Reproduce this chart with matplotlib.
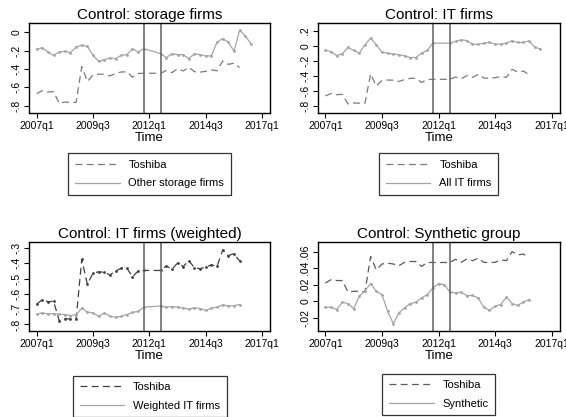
import numpy as np
import matplotlib
matplotlib.use("Agg")
from matplotlib import pyplot as plt
from matplotlib.lines import Line2D

plt.rcParams['font.family'] = ['Liberation Sans', 'DejaVu Sans']

# quarters since 2007q1 (0 = 2007q1)
quarters = np.arange(39)
tick_pos = [0, 10, 20, 30, 40]
tick_lab = ["2007q1", "2009q3", "2012q1", "2014q3", "2017q1"]
event_lines = [19, 22]

# Toshiba, used in the first three panels (q20, q21 missing)
toshiba = [-0.668, -0.637, -0.652, -0.648, -0.775, -0.762, -0.765, -0.765,
           -0.375, -0.537, -0.464, -0.456, -0.459, -0.476, -0.450, -0.433,
           -0.432, -0.489, -0.450, -0.447, None, None, -0.447, -0.417,
           -0.440, -0.398, -0.422, -0.382, -0.430, -0.435, -0.425, -0.410,
           -0.420, -0.313, -0.350, -0.337, -0.385, None, None]

storage = [-0.186, -0.168, -0.215, -0.251, -0.215, -0.207, -0.222, -0.160,
           -0.142, -0.155, -0.251, -0.316, -0.299, -0.280, -0.288, -0.251,
           -0.244, -0.178, -0.215, -0.178, None, None, -0.233, -0.277,
           -0.233, -0.244, -0.244, -0.288, -0.233, -0.244, -0.258, -0.258,
           -0.106, -0.070, -0.106, -0.207, 0.022, -0.040, -0.124]

it_all = [-0.062, -0.076, -0.130, -0.107, -0.022, -0.062, -0.098, 0.013,
          0.103, 0.013, -0.085, -0.098, -0.110, -0.120, -0.134, -0.156,
          -0.156, -0.098, -0.062, 0.036, None, None, 0.036, 0.058,
          0.080, 0.070, 0.022, 0.018, 0.036, 0.045, 0.022, 0.022,
          0.036, 0.067, 0.045, 0.045, 0.067, -0.022, -0.040]

it_weighted = [-0.732, -0.725, -0.730, -0.730, -0.732, -0.736, -0.742, -0.736,
               -0.693, -0.719, -0.725, -0.747, -0.725, -0.747, -0.753, -0.747,
               -0.736, -0.721, -0.715, -0.687, None, None, -0.679, -0.687,
               -0.683, -0.687, -0.693, -0.700, -0.690, -0.697, -0.708, -0.693,
               -0.687, -0.672, -0.679, -0.677, -0.670, None, None]

toshiba_syn = [0.022, 0.026, 0.025, 0.025, 0.0112, 0.012, 0.012, 0.0112,
               0.054, 0.038, 0.045, 0.046, 0.045, 0.043, 0.047, 0.048,
               0.048, 0.042, 0.047, 0.0468, None, None, 0.0468, 0.0508,
               0.047, 0.051, 0.049, 0.052, 0.047, 0.0468, 0.047, 0.050,
               0.049, 0.060, 0.056, 0.057, 0.053, None, None]

synthetic = [-0.0072, -0.0072, -0.010, -0.0012, -0.0028, -0.009, 0.006, 0.0128,
             0.0212, 0.012, 0.008, -0.012, -0.027, -0.014, -0.008, -0.0028,
             -0.0012, 0.004, 0.008, 0.016, 0.0212, 0.020, 0.0112, 0.010,
             0.011, 0.0068, 0.007, 0.004, -0.0072, -0.011, -0.006, -0.004,
             0.0052, -0.003, -0.005, -0.0008, 0.002, None, None]

panels = [
    dict(title="Control: storage firms", other=storage, treat=toshiba,
         label="Other storage firms", dash="#7a7a7a", dash_ms=0,
         yticks=[0, -0.2, -0.4, -0.6, -0.8], ylab=["0", "-.2", "-.4", "-.6", "-.8"],
         ylim=(-0.884, 0.098), pos=[0.0518, 0.7283, 0.4253, 0.2158], leg_y=0.632),
    dict(title="Control: IT firms", other=it_all, treat=toshiba,
         label="All IT firms", dash="#7a7a7a", dash_ms=0,
         yticks=[0.2, 0, -0.2, -0.4, -0.6, -0.8], ylab=[".2", "0", "-.2", "-.4", "-.6", "-.8"],
         ylim=(-0.90, 0.30), pos=[0.5618, 0.7283, 0.4270, 0.2158], leg_y=0.632),
    dict(title="Control: IT firms (weighted)", other=it_weighted, treat=toshiba,
         label="Weighted IT firms", dash="#404040", dash_ms=1.0,
         yticks=[-0.3, -0.4, -0.5, -0.6, -0.7, -0.8],
         ylab=["-.3", "-.4", "-.5", "-.6", "-.7", "-.8"],
         ylim=(-0.843, -0.263), pos=[0.0518, 0.2062, 0.4253, 0.2127], leg_y=0.099),
    dict(title="Control: Synthetic group", other=synthetic, treat=toshiba_syn,
         label="Synthetic", dash="#5a5a5a", dash_ms=0,
         yticks=[0.06, 0.04, 0.02, 0, -0.02], ylab=[".06", ".04", ".02", "0", "-.02"],
         ylim=(-0.036, 0.0712), pos=[0.5618, 0.2062, 0.4270, 0.2127], leg_y=0.104),
]


def valid(series):
    x = [q for q, v in zip(quarters, series) if v is not None]
    y = [v for v in series if v is not None]
    return x, y


fig = plt.figure(figsize=(5.66, 4.17), dpi=100)

for p in panels:
    ax = fig.add_axes(p["pos"])
    tx, ty = valid(p["treat"])
    ox, oy = valid(p["other"])
    ax.plot(tx, ty, color=p["dash"], lw=0.9, dashes=(5.5, 3.5),
            marker="o", ms=p["dash_ms"])
    ax.plot(ox, oy, color="#a5a5a5", lw=0.9, marker="o", ms=1.0)
    for xv in event_lines:
        ax.axvline(xv, color="#6b6b6b", lw=1.2)

    ax.set_xlim(-1.3, 41.4)
    ax.set_ylim(*p["ylim"])
    ax.set_xticks(tick_pos)
    ax.set_xticklabels(tick_lab, fontsize=7.5)
    ax.set_yticks(p["yticks"])
    ax.set_yticklabels(p["ylab"], fontsize=7.5, rotation=90, va="center")
    ax.tick_params(direction="out", length=3.5, width=0.8, pad=2)
    for s in ax.spines.values():
        s.set_linewidth(1.0)
    ax.set_title(p["title"], fontsize=11, pad=3)
    ax.set_xlabel("Time", fontsize=9.5, labelpad=1)

    handles = [Line2D([], [], color=p["dash"], lw=0.9, dashes=(5.5, 3.5)),
               Line2D([], [], color="#a5a5a5", lw=0.9)]
    leg = ax.legend(handles, ["Toshiba", p["label"]], loc="upper center",
                    bbox_to_anchor=(p["pos"][0] + p["pos"][2] / 2, p["leg_y"]),
                    bbox_transform=fig.transFigure, fontsize=8, frameon=True,
                    fancybox=False, edgecolor="black", handlelength=4.0,
                    borderpad=0.6, labelspacing=0.75, borderaxespad=0)
    leg.get_frame().set_linewidth(0.9)

fig.savefig("out.png", dpi=100)
